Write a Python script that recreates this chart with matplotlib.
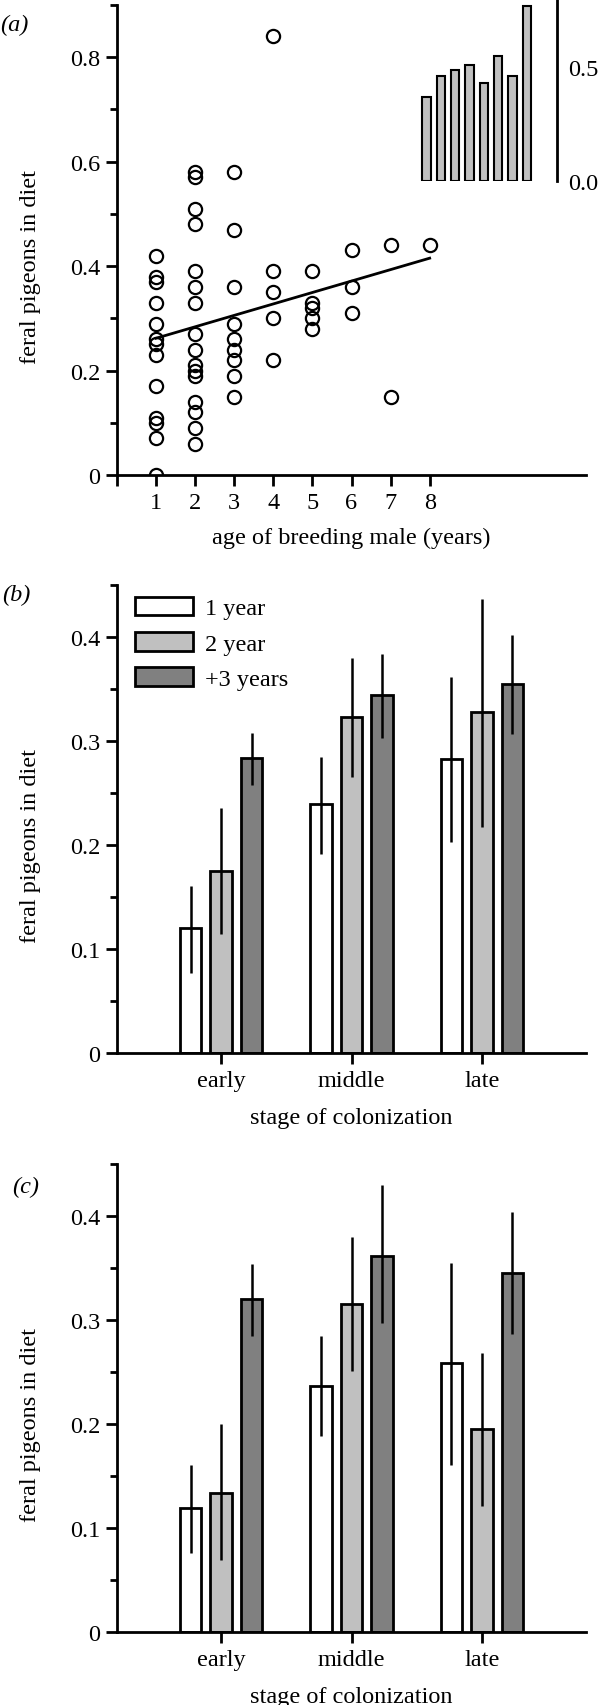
import matplotlib
matplotlib.use('Agg')
import matplotlib.pyplot as plt
import numpy as np
from matplotlib.ticker import FixedLocator
from matplotlib.patches import Patch

plt.rcParams['font.family'] = ['Liberation Serif', 'DejaVu Serif']
plt.rcParams['font.size'] = 17.5
plt.rcParams['axes.linewidth'] = 2.0
for ax_ in ('xtick', 'ytick'):
    plt.rcParams[ax_ + '.major.width'] = 2.0
    plt.rcParams[ax_ + '.minor.width'] = 2.0
    plt.rcParams[ax_ + '.major.size'] = 8
    plt.rcParams[ax_ + '.minor.size'] = 5
    plt.rcParams[ax_ + '.direction'] = 'out'

# ---------------- data: panel (a) ----------------
age1 = [0.42, 0.38, 0.37, 0.33, 0.29, 0.26, 0.25, 0.23, 0.17, 0.11, 0.10, 0.07, 0.00]
age2 = [0.58, 0.57, 0.51, 0.48, 0.39, 0.36, 0.33, 0.27, 0.24, 0.21, 0.20, 0.19, 0.14, 0.12, 0.09, 0.06]
age3 = [0.58, 0.47, 0.36, 0.29, 0.26, 0.24, 0.22, 0.19, 0.15]
age4 = [0.84, 0.39, 0.35, 0.30, 0.22]
age5 = [0.39, 0.33, 0.32, 0.30, 0.28]
age6 = [0.43, 0.36, 0.31]
age7 = [0.44, 0.15]
age8 = [0.44]
ages_values = [age1, age2, age3, age4, age5, age6, age7, age8]
age_labels = ['1', '2', '3', '4', '5', '6', '7', '8']
fit_intercept = 0.240
fit_slope = 0.0219
fit_x = [1, 8]

inset_values = [0.37, 0.46, 0.49, 0.51, 0.43, 0.55, 0.46, 0.77]

# ---------------- data: panels (b), (c) ----------------
stages = ['early', 'middle', 'late']
groups = ['1 year', '2 year', '+3 years']
colors = ['white', '#c0c0c0', '#808080']

b_mean_1 = [0.120, 0.239, 0.283]
b_mean_2 = [0.175, 0.323, 0.328]
b_mean_3 = [0.284, 0.344, 0.355]
b_lo_1 = [0.077, 0.191, 0.203]
b_hi_1 = [0.161, 0.285, 0.362]
b_lo_2 = [0.114, 0.265, 0.217]
b_hi_2 = [0.236, 0.380, 0.437]
b_lo_3 = [0.258, 0.303, 0.307]
b_hi_3 = [0.308, 0.384, 0.402]

c_mean_1 = [0.119, 0.237, 0.259]
c_mean_2 = [0.134, 0.315, 0.195]
c_mean_3 = [0.320, 0.362, 0.345]
c_lo_1 = [0.076, 0.188, 0.161]
c_hi_1 = [0.161, 0.285, 0.355]
c_lo_2 = [0.069, 0.251, 0.121]
c_hi_2 = [0.200, 0.380, 0.268]
c_lo_3 = [0.285, 0.297, 0.287]
c_hi_3 = [0.354, 0.430, 0.404]

W, H = 598, 1706
fig = plt.figure(figsize=(W / 100, H / 100), dpi=100)


def frac(left, top, right, bottom):
    return [left / W, 1 - bottom / H, (right - left) / W, (bottom - top) / H]


def style(ax):
    ax.spines['top'].set_visible(False)
    ax.spines['right'].set_visible(False)
    ax.tick_params(which='both', pad=4)


# ---------------- panel (a) ----------------
axa = fig.add_axes(frac(117, 6, 586, 476))
style(axa)
for i, vals in enumerate(ages_values):
    xs = np.full(len(vals), i + 1)
    axa.plot(xs, vals, linestyle='none', marker='o', ms=9.5, mfc='none',
             mec='black', mew=1.6, zorder=3)
fx = np.array(fit_x)
axa.plot(fx, fit_intercept + fit_slope * fx, color='black', lw=2.0, zorder=4)
axa.set_xlim(0, 12)
axa.set_ylim(0, 0.9)
axa.xaxis.set_major_locator(FixedLocator(range(0, 9)))
axa.set_xticklabels([''] + age_labels)
axa.yaxis.set_major_locator(FixedLocator([0, 0.2, 0.4, 0.6, 0.8]))
axa.set_yticklabels(['0', '0.2', '0.4', '0.6', '0.8'])
axa.yaxis.set_minor_locator(FixedLocator([0.1, 0.3, 0.5, 0.7, 0.9]))
axa.set_ylabel('feral pigeons in diet')
axa.yaxis.set_label_coords(-0.162, 0.444)
axa.set_xlabel('age of breeding male (years)', va='top')
axa.xaxis.set_label_coords(0.5, -0.11)

# inset
axi = fig.add_axes(frac(415, 0, 557, 182))
axi.set_facecolor('none')
for s in ('top', 'left', 'bottom'):
    axi.spines[s].set_visible(False)
axi.bar(np.arange(1, 9), inset_values, width=0.58, color='#c0c0c0',
        edgecolor='black', linewidth=1.5)
axi.set_xlim(0.2, 10.1)
axi.set_ylim(0, 0.8)
axi.set_xticks([])
axi.yaxis.tick_right()
axi.set_yticks([0, 0.5])
axi.set_yticklabels(['0.0', '0.5'])
axi.tick_params(axis='y', length=0, pad=8)

fig.text(0.0, 1 - 25 / H, '(a)', style='italic', va='center', ha='left')


# ---------------- panels (b), (c) ----------------
def bar_panel(rect, means, los, his, label, label_xy, legend=False):
    ax = fig.add_axes(rect)
    style(ax)
    x = np.arange(len(stages))
    offs = [-0.234, 0.0, 0.234]
    handles = []
    for g in range(3):
        ax.bar(x + offs[g], means[g], width=0.165, color=colors[g],
               edgecolor='black', linewidth=2.0, zorder=2)
        ax.vlines(x + offs[g], los[g], his[g], color='black', lw=1.8, zorder=3)
        handles.append(Patch(facecolor=colors[g], edgecolor='black', linewidth=2.0))
    ax.set_xlim(-0.8, 2.8)
    ax.set_ylim(0, 0.45)
    ax.set_xticks(x)
    ax.set_xticklabels(stages)
    ax.yaxis.set_major_locator(FixedLocator([0, 0.1, 0.2, 0.3, 0.4]))
    ax.set_yticklabels(['0', '0.1', '0.2', '0.3', '0.4'])
    ax.yaxis.set_minor_locator(FixedLocator([0.05, 0.15, 0.25, 0.35, 0.45]))
    ax.set_ylabel('feral pigeons in diet')
    ax.yaxis.set_label_coords(-0.162, 0.444)
    ax.set_xlabel('stage of colonization', va='top')
    ax.xaxis.set_label_coords(0.5, -0.115)
    if legend:
        ax.legend(handles, groups, loc='upper left', bbox_to_anchor=(0.038, 0.975),
                  frameon=False, handlelength=2.4, handleheight=0.8,
                  handletextpad=0.5, labelspacing=0.52, borderpad=0,
                  borderaxespad=0)
    fig.text(label_xy[0], label_xy[1], label, style='italic', va='center', ha='left')
    return ax


bar_panel(frac(117, 586, 586, 1054),
          [b_mean_1, b_mean_2, b_mean_3], [b_lo_1, b_lo_2, b_lo_3],
          [b_hi_1, b_hi_2, b_hi_3], '(b)', (2 / W, 1 - 595 / H), legend=True)
bar_panel(frac(117, 1165, 586, 1633),
          [c_mean_1, c_mean_2, c_mean_3], [c_lo_1, c_lo_2, c_lo_3],
          [c_hi_1, c_hi_2, c_hi_3], '(c)', (12 / W, 1 - 1187 / H))

fig.savefig('out.png', dpi=100)
